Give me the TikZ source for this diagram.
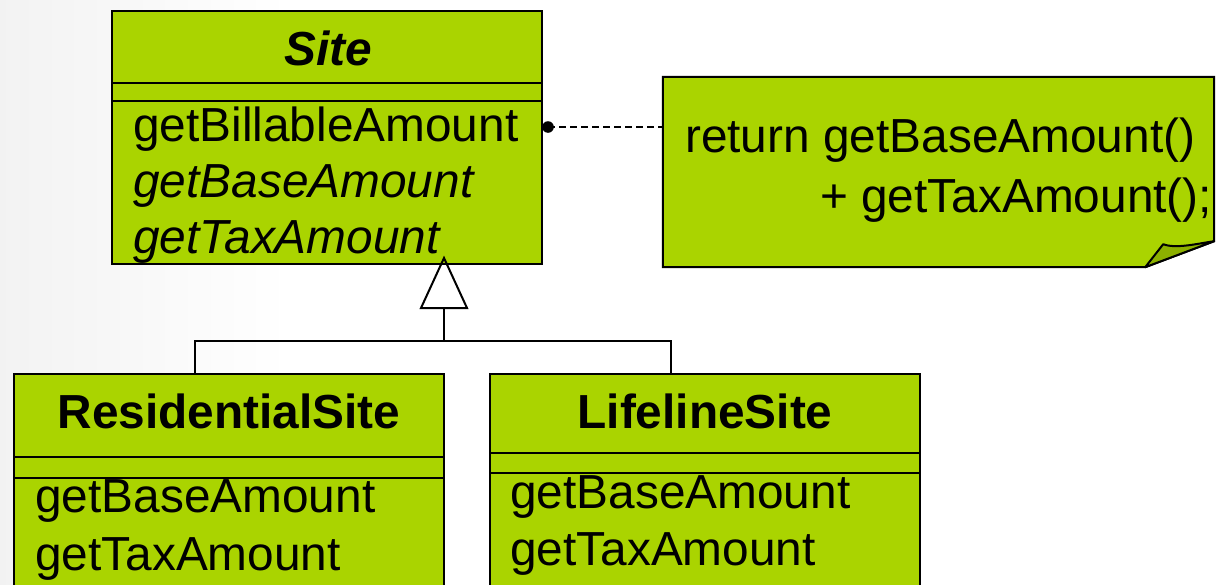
\documentclass[tikz,border=0pt]{standalone}
\usepackage{fontspec}
\setmainfont{Liberation Sans}
\usetikzlibrary{calc}
\definecolor{umlgreen}{HTML}{AAD400}
\definecolor{foldgreen}{HTML}{8CB000}
\tikzset{
  classbox/.style={draw=black, fill=umlgreen, line width=2pt, inner sep=0pt},
  label/.style={inner sep=0pt, font=\fontsize{47.8}{55}\selectfont},
  divider/.style={draw=black, line width=2pt},
  link/.style={draw=black, line width=1.6pt},
  notelink/.style={draw=black, line width=1.6pt, dash pattern=on 7pt off 4pt}
}
\begin{document}
\begin{tikzpicture}[x=1pt, y=-1pt]
  \useasboundingbox (0,0) rectangle (1222,584);
  \clip (0,0) rectangle (1222,584);
  % soft grey slide background on the left
  \shade[left color=black!5, right color=white] (0,0) rectangle (290,584);

  % abstract class Site
  \node[classbox, minimum width=430pt, minimum height=253pt] (site) at (327,137.5) {};
  \draw[divider] (site.west |- 0,83) -- (site.east |- 0,83);
  \draw[divider] (site.west |- 0,101) -- (site.east |- 0,101);
  \node[label, anchor=base, font=\fontsize{47.8}{55}\selectfont\bfseries\itshape] (sitename) at (328,65) {Site};
  \node[label, anchor=base west] (m1) at (133,141) {getBillableAmount};
  \node[label, anchor=base west, font=\fontsize{47.8}{55}\selectfont\itshape] (m2) at (133,197) {getBaseAmount};
  \node[label, anchor=base west, font=\fontsize{47.8}{55}\selectfont\itshape] (m3) at (133,253) {getTaxAmount};

  % subclass ResidentialSite
  \node[classbox, minimum width=430pt, minimum height=240pt] (res) at (229,494) {};
  \draw[divider] (res.west |- 0,457) -- (res.east |- 0,457);
  \draw[divider] (res.west |- 0,478) -- (res.east |- 0,478);
  \node[label, anchor=base, font=\fontsize{47.8}{55}\selectfont\bfseries] (resname) at (229,428) {ResidentialSite};
  \node[label, anchor=base west] (r1) at (35,512) {getBaseAmount};
  \node[label, anchor=base west] (r2) at (35,570) {getTaxAmount};

  % subclass LifelineSite
  \node[classbox, minimum width=430pt, minimum height=240pt] (life) at (705,494) {};
  \draw[divider] (life.west |- 0,453) -- (life.east |- 0,453);
  \draw[divider] (life.west |- 0,473) -- (life.east |- 0,473);
  \node[label, anchor=base, font=\fontsize{47.8}{55}\selectfont\bfseries] (lifename) at (705,428) {LifelineSite};
  \node[label, anchor=base west] (l1) at (510,508) {getBaseAmount};
  \node[label, anchor=base west] (l2) at (510,565) {getTaxAmount};

  % note with folded corner
  \node[inner sep=0pt, minimum width=551pt, minimum height=190pt] (note) at (938.5,172) {};
  \filldraw[fill=umlgreen, draw=black, line width=2pt, line join=miter]
    (note.north west) -- (note.north east) -- ($(note.south east)+(0,-26)$)
    -- ($(note.south east)+(-69,0)$) -- (note.south west) -- cycle;
  \filldraw[fill=foldgreen, draw=black, line width=2pt, line join=round]
    ($(note.south east)+(-69,0)$) -- ($(note.south east)+(-51,-23)$)
    .. controls ($(note.south east)+(-38,-18)$) and ($(note.south east)+(-15,-24)$) .. ($(note.south east)+(0,-26)$)
    -- cycle;
  \node[label, anchor=base west] (n1) at (685,152) {return getBaseAmount()};
  \node[label, anchor=base west] (n2) at (820,212) {+ getTaxAmount();};

  % note anchored to getBillableAmount
  \coordinate (dot) at (548,127);
  \draw[notelink] (dot) -- (note.west |- dot);
  \fill[black] (dot) circle (5.8pt);

  % generalisation
  \coordinate (apex) at (444,258);
  \coordinate (tb) at (444,308);
  \coordinate (join) at (444,341);
  \coordinate (rt) at (195,374);
  \coordinate (lt) at (671,374);
  \draw[link] (tb) -- (join);
  \draw[link] (join) -| (rt);
  \draw[link] (join) -| (lt);
  \draw[black, line width=2pt, line join=miter] (apex) -- ($(tb)+(23,0)$) -- ($(tb)+(-23,0)$) -- cycle;
\end{tikzpicture}
\end{document}
